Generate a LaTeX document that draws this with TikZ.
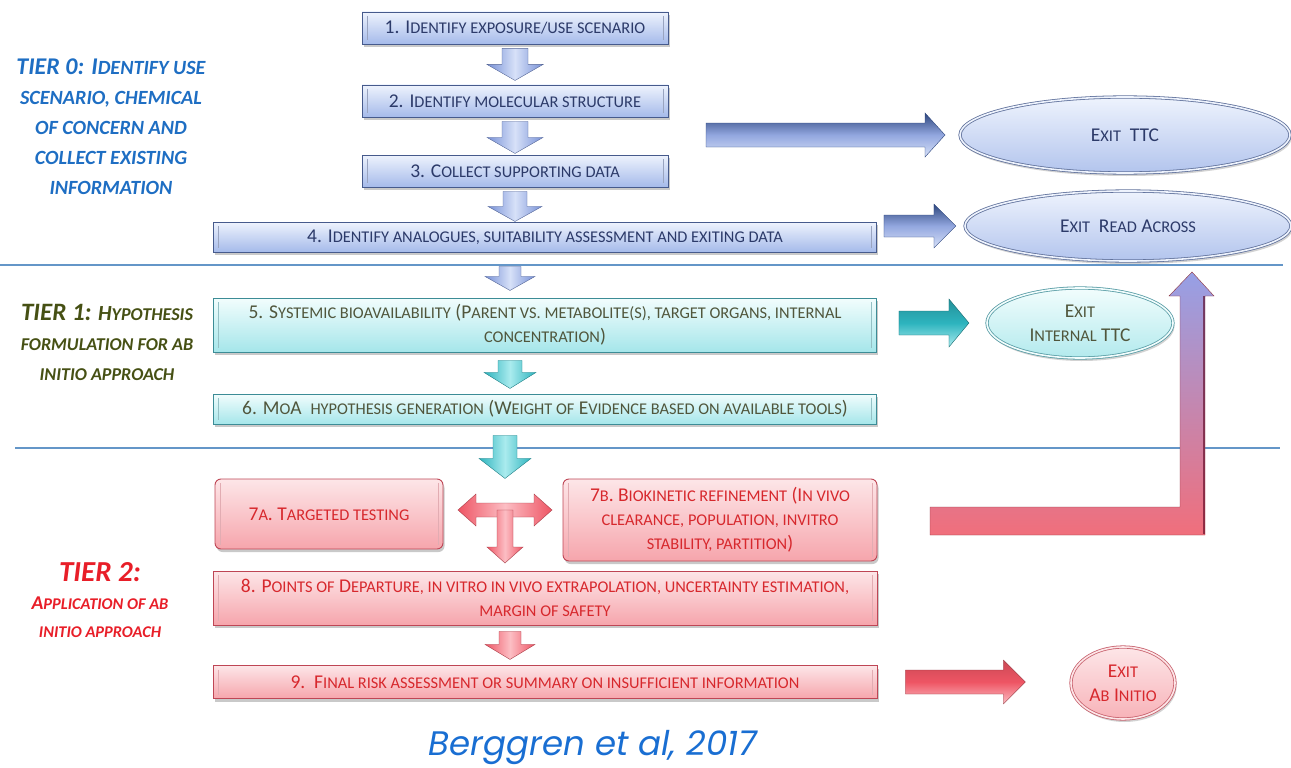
\documentclass[tikz,border=0pt]{standalone}
\usepackage{fontspec}
\setmainfont{Carlito}
\newfontfamily\citefont{Poppins}
\usetikzlibrary{shapes.geometric,shadows,calc}

% small capitals built from reduced upper-case letters
\makeatletter
\newcommand\SCs[1]{{\fontsize{\fpeval{0.84*\f@size}}{\f@baselineskip}\selectfont\MakeUppercase{#1}}}
\makeatother

\definecolor{navytext}{RGB}{44,58,105}
\definecolor{bluetop}{RGB}{238,243,253}
\definecolor{bluebot}{RGB}{165,186,234}
\definecolor{blueedge}{RGB}{70,90,140}
\definecolor{tealtop}{RGB}{242,253,253}
\definecolor{tealbot}{RGB}{165,230,234}
\definecolor{tealedge}{RGB}{60,140,150}
\definecolor{tealtext}{RGB}{80,86,60}
\definecolor{redtop}{RGB}{253,230,232}
\definecolor{redbot}{RGB}{246,165,172}
\definecolor{rededge}{RGB}{190,70,85}
\definecolor{redtext}{RGB}{215,40,45}
\definecolor{tierblue}{RGB}{30,110,195}
\definecolor{tierolive}{RGB}{70,80,20}
\definecolor{tierred}{RGB}{232,30,40}
\definecolor{rulecol}{RGB}{100,150,200}
\definecolor{citecol}{RGB}{25,110,210}
\definecolor{arrblue}{RGB}{120,145,215}
\definecolor{arrbluelight}{RGB}{215,225,248}
\definecolor{arrbluedark}{RGB}{45,70,125}
\definecolor{arrteal}{RGB}{45,180,190}
\definecolor{arrteallight}{RGB}{170,235,238}
\definecolor{arrred}{RGB}{238,85,100}
\definecolor{arrredlight}{RGB}{252,190,196}
\definecolor{arrlav}{RGB}{150,160,230}
\definecolor{arrmauve}{RGB}{215,140,200}

% block arrow pointing down: style, top centre, length, shaft half-width, head half-width, head length
\newcommand\BlockDown[6]{%
  \path[#1] (#2) ++(-#4,0) -- ++(2*#4,0) -- ++(0,#3-#6) -- ++(#5-#4,0)
    -- ++(-#5,#6) -- ++(-#5,-#6) -- ++(#5-#4,0) -- cycle;}
% block arrow pointing right: style, tail centre, length, shaft half-width, head half-width, head length
\newcommand\BlockRight[6]{%
  \path[#1] (#2) ++(0,-#4) -- ++(#3-#6,0) -- ++(0,#4-#5) -- ++(#6,#5)
    -- ++(-#6,#5) -- ++(0,#4-#5) -- ++(-#3+#6,0) -- cycle;}
% two-headed horizontal block arrow: style, centre, half length, shaft half-width, head half-width, head length
\newcommand\BlockBoth[6]{%
  \path[#1] (#2) ++(-#3,0) -- ++(#6,-#5) -- ++(0,#5-#4) -- ++(2*#3-2*#6,0)
    -- ++(0,#4-#5) -- ++(#6,#5) -- ++(-#6,#5) -- ++(0,#4-#5)
    -- ++(-2*#3+2*#6,0) -- ++(0,#5-#4) -- cycle;}

\begin{document}
\begin{tikzpicture}[x=1pt,y=-1pt,
  stepbase/.style={rectangle, align=center, line width=0.9pt, inner sep=2pt,
    drop shadow={shadow xshift=1.5pt, shadow yshift=-3pt, opacity=0.3, fill=black!70},
    font=\fontsize{19.5}{24}\selectfont},
  bevel/.style={path picture={
    \draw[#1, line width=0.8pt]
      ($(path picture bounding box.north west)+(5,4)$) -- ($(path picture bounding box.south west)+(5,-4)$)
      ($(path picture bounding box.north east)+(-5,4)$) -- ($(path picture bounding box.south east)+(-5,-4)$);}},
  bluebox/.style={stepbase, draw=blueedge, top color=bluetop, bottom color=bluebot, text=navytext, bevel=blueedge!55},
  tealbox/.style={stepbase, draw=tealedge, top color=tealtop, bottom color=tealbot, text=tealtext, bevel=tealedge!55},
  redbox/.style={stepbase, draw=rededge, top color=redtop, bottom color=redbot, text=redtext, bevel=rededge!45},
  exitbase/.style={ellipse, align=center, line width=0.8pt, inner sep=0pt, double distance=1.6pt,
    drop shadow={shadow xshift=1.5pt, shadow yshift=-3pt, opacity=0.25, fill=black!70},
    font=\fontsize{19.5}{24}\selectfont},
  blueexit/.style={exitbase, draw=blueedge!85, double=bluetop, top color=bluetop, bottom color=bluebot!85, text=navytext},
  tealexit/.style={exitbase, draw=tealedge!85, double=tealtop, top color=tealtop, bottom color=tealbot!85, text=tealtext},
  redexit/.style={exitbase, draw=rededge!85, double=redtop, top color=redtop, bottom color=redbot!85, text=redtext},
  bluearrow/.style={left color=arrblue, right color=arrblue, middle color=arrbluelight, draw=arrblue!70!black, line width=0.4pt},
  tealarrow/.style={left color=arrteal, right color=arrteal, middle color=arrteallight, draw=arrteal!70!black, line width=0.4pt},
  redarrow/.style={left color=arrred, right color=arrred, middle color=arrredlight, draw=arrred!70!black, line width=0.4pt},
  bluearrowh/.style={top color=arrbluedark, bottom color=arrbluelight, middle color=arrblue!80, draw=arrbluedark, line width=0.4pt},
  tealarrowh/.style={top color=arrteal!80!black, bottom color=arrteallight, middle color=arrteal, draw=arrteal!60!black, line width=0.4pt},
  redarrowh/.style={top color=arrred!85!black, bottom color=arrredlight, middle color=arrred, draw=arrred!60!black, line width=0.4pt},
  tierlabel/.style={align=center, font=\bfseries\itshape},
  rule/.style={draw=rulecol, line width=1.2pt}
]
\useasboundingbox (0,0) rectangle (1291,768);

% tier separators
\draw[rule] (0,265) -- (1283,265);
\draw[rule] (15,448) -- (1280,448);

% tier captions
\node[tierlabel, text=tierblue, font=\fontsize{24}{30}\selectfont\bfseries\itshape] (t0) at (111,127)
  {TIER 0: I\SCs{dentify use}\\\SCs{scenario, chemical}\\\SCs{of concern and}\\\SCs{collect existing}\\\SCs{information}};
\node[tierlabel, text=tierolive, font=\fontsize{21.5}{30}\selectfont\bfseries\itshape] (t1) at (107,342)
  {{\fontsize{25}{30}\selectfont TIER 1:} H\SCs{ypothesis}\\\SCs{formulation for ab}\\\SCs{initio approach}};
\node[tierlabel, text=tierred, font=\fontsize{19.5}{28}\selectfont\bfseries\itshape] (t2) at (100,600)
  {{\fontsize{29}{30}\selectfont TIER 2:}\\A\SCs{pplication of ab}\\\SCs{initio approach}};

% tier 0 steps
\node[bluebox, minimum width=306, minimum height=32] (b1) at (515,28) {1. I\SCs{dentify exposure/use scenario}};
\node[bluebox, minimum width=306, minimum height=32] (b2) at (515,101) {2. I\SCs{dentify molecular structure}};
\node[bluebox, minimum width=306, minimum height=32] (b3) at (515,171) {3. C\SCs{ollect supporting data}};
\node[bluebox, minimum width=663, minimum height=30] (b4) at (545,237)
  {4. I\SCs{dentify analogues, suitability assessment and exiting data}};

% tier 1 steps
\node[tealbox, minimum width=663, minimum height=54] (b5) at (545,325)
  {5. S\SCs{ystemic bioavailability} (P\SCs{arent vs. metabolite(s), target organs, internal}\\\SCs{concentration})};
\node[tealbox, minimum width=663, minimum height=30] (b6) at (545,409)
  {6. M\SCs{o}A\ \ \SCs{hypothesis generation} (W\SCs{eight of} E\SCs{vidence based on available tools})};

% tier 2 steps
\node[redbox, rounded corners=6pt, minimum width=228, minimum height=70] (b7a) at (329,514) {7\SCs{a}. T\SCs{argeted testing}};
\node[redbox, rounded corners=6pt, minimum width=314, minimum height=82] (b7b) at (720,520)
  {7\SCs{b}. B\SCs{iokinetic refinement} (I\SCs{n vivo}\\\SCs{clearance, population, invitro}\\\SCs{stability, partition})};
\node[redbox, minimum width=664, minimum height=54] (b8) at (545,598)
  {8. P\SCs{oints of} D\SCs{eparture, in vitro in vivo extrapolation, uncertainty estimation,}\\\SCs{margin of safety}};
\node[redbox, minimum width=664, minimum height=33] (b9) at (545,682)
  {9.\ \ F\SCs{inal risk assessment or summary on insufficient information}};

% exits
\node[blueexit, minimum width=330, minimum height=76] (eTTC) at (1125,135) {E\SCs{xit}\ \ TTC};
\node[blueexit, minimum width=326, minimum height=70] (eRA) at (1128,226) {E\SCs{xit}\ \ R\SCs{ead} A\SCs{cross}};
\node[tealexit, minimum width=186, minimum height=70] (eIT) at (1080,323) {E\SCs{xit}\\I\SCs{nternal} TTC};
\node[redexit, minimum width=104, minimum height=72] (eAI) at (1123,683) {E\SCs{xit}\\A\SCs{b} I\SCs{nitio}};

% downward flow between the steps
\BlockDown{bluearrow}{$(b1.south)+(0,4)$}{32}{13}{28}{16}
\BlockDown{bluearrow}{$(b2.south)+(0,4)$}{32}{13}{28}{16}
\BlockDown{bluearrow}{$(b3.south)+(0,4)$}{30}{12}{27}{15}
\BlockDown{bluearrow}{$(b4.south)+(-35,14)$}{24}{11}{25}{14}
\BlockDown{tealarrow}{$(b5.south)+(-35,8)$}{28}{12}{26}{16}
\BlockDown{tealarrow}{$(b6.south)+(-40,11)$}{43}{12}{26}{20}
\BlockDown{redarrow}{$(b8.south)+(-35,6)$}{28}{11}{25}{15}

% branching towards 7a / 7b and on to step 8
\coordinate (tee) at ($(b7a.east)!0.5!(b7b.west)+(2,-7)$);
\BlockBoth{redarrow}{tee}{47}{7}{16}{18}
\BlockDown{redarrow}{tee}{53}{8}{18}{16}

% exit arrows
\coordinate (ttcstart) at (706,135);
\BlockRight{bluearrowh}{ttcstart}{239}{12}{22}{20}
\BlockRight{bluearrowh}{$(b4.east)+(7,-11)$}{72}{11}{22}{22}
\BlockRight{tealarrowh}{$(b5.east)+(22,-2)$}{70}{12}{24}{20}
\BlockRight{redarrowh}{$(b9.east)+(28,0)$}{120}{12}{22}{22}

% return path from tier 2 up to the read-across exit
\coordinate (lstart) at (930,521);
\path[top color=arrlav, middle color=arrmauve, bottom color=arrred!85, draw=arrred!60!black, line width=0.4pt]
  (lstart) ++(0,-14) -- ++(250,0) -- ++(0,-211) -- ++(-11,0) -- ++(23,-24)
  -- ++(22,24) -- ++(-9,0) -- ++(0,239) -- ++(-275,0) -- cycle;
\draw[line width=1.8pt, draw=black!55!purple, opacity=0.6] ($(lstart)+(274,-225)$) -- ($(lstart)+(274,13)$);

% reference
\node[font=\citefont\itshape\fontsize{34}{38}\selectfont, text=citecol] (cite) at (593,748) {Berggren et al, 2017};
\end{tikzpicture}
\end{document}
